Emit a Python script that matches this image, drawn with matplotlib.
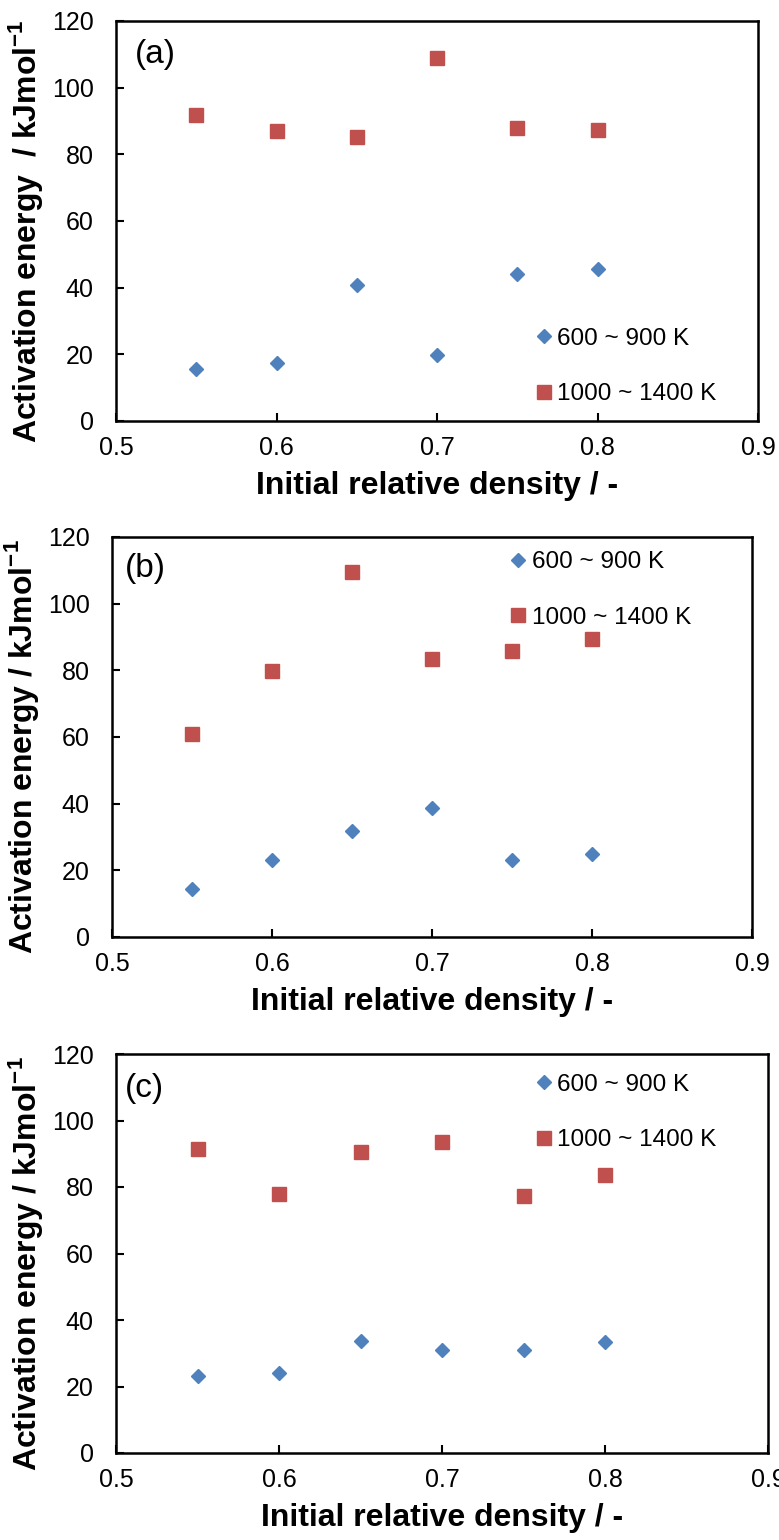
import matplotlib
matplotlib.use("Agg")
import matplotlib.pyplot as plt

plt.rcParams['font.family'] = ['Liberation Sans', 'DejaVu Sans']
plt.rcParams['mathtext.fontset'] = 'custom'
plt.rcParams['mathtext.rm'] = 'Liberation Sans'
plt.rcParams['mathtext.bf'] = 'Liberation Sans:bold'

density = [0.55, 0.60, 0.65, 0.70, 0.75, 0.80]

a_low = [15.6, 17.4, 40.9, 19.8, 44.2, 45.7]
a_high = [91.7, 86.9, 85.1, 108.9, 87.8, 87.2]

b_low = [14.5, 23.2, 31.7, 38.6, 23.2, 25.0]
b_high = [60.9, 79.9, 109.4, 83.5, 85.9, 89.5]

c_low = [23.2, 24.1, 33.8, 31.1, 31.1, 33.5]
c_high = [91.3, 77.8, 90.4, 93.5, 77.2, 83.5]

panel_labels = ['(a)', '(b)', '(c)']
series_labels = ['600 ~ 900 K', '1000 ~ 1400 K']
ylabels = ['Activation energy  / kJmol$^{\\mathbf{-1}}$',
           'Activation energy / kJmol$^{\\mathbf{-1}}$',
           'Activation energy / kJmol$^{\\mathbf{-1}}$']
xlabel = 'Initial relative density / -'
xticks = [0.5, 0.6, 0.7, 0.8, 0.9]
xticklabels = ['0.5', '0.6', '0.7', '0.8', '0.9']
yticks = [0, 20, 40, 60, 80, 100, 120]

W, H = 779, 1540
fig = plt.figure(figsize=(W / 100, H / 100), dpi=100)

# pixel boxes: left, right, top, bottom
boxes = [(116, 758, 21, 421), (112, 752, 537, 937), (116, 768, 1054, 1453)]
legend_anchor = [(0.649, 0.136), (0.618, 0.8675), (0.639, 0.853)]
label_offset_px = [(19, 18), (13, 16), (9, 19)]

data = [(a_low, a_high), (b_low, b_high), (c_low, c_high)]

for i, ((l, r, t, b), (low, high)) in enumerate(zip(boxes, data)):
    w, h = r - l, b - t
    ax = fig.add_axes([l / W, 1 - b / H, w / W, h / H])
    ax.plot(density, low, linestyle='none', marker='D', markersize=7.5,
            color='#4F81BD', label=series_labels[0])
    ax.plot(density, high, linestyle='none', marker='s', markersize=10,
            color='#C0504D', label=series_labels[1])
    ax.set_xlim(0.5, 0.9)
    ax.set_ylim(0, 120)
    ax.set_xticks(xticks)
    ax.set_xticklabels(xticklabels)
    ax.set_yticks(yticks)
    ax.tick_params(direction='in', length=6, width=1.5, labelsize=18)
    ax.tick_params(axis='x', pad=11)
    ax.tick_params(axis='y', pad=16)
    for sp in ax.spines.values():
        sp.set_linewidth(1.8)
    ax.set_xlabel(xlabel, fontsize=23, fontweight='bold', labelpad=8)
    ax.set_ylabel(ylabels[i], fontsize=23, fontweight='bold', labelpad=5)
    ax.yaxis.label.set_y(0.475)
    dx, dy = label_offset_px[i]
    ax.text(dx / w, 1 - dy / h, panel_labels[i], transform=ax.transAxes,
            fontsize=24, va='top', ha='left')
    ax.legend(loc='center left', bbox_to_anchor=legend_anchor[i],
              frameon=False, fontsize=17.5, handletextpad=0.1,
              labelspacing=1.38, handlelength=0.9, borderaxespad=0,
              borderpad=0)

fig.savefig('out.png', dpi=100)
